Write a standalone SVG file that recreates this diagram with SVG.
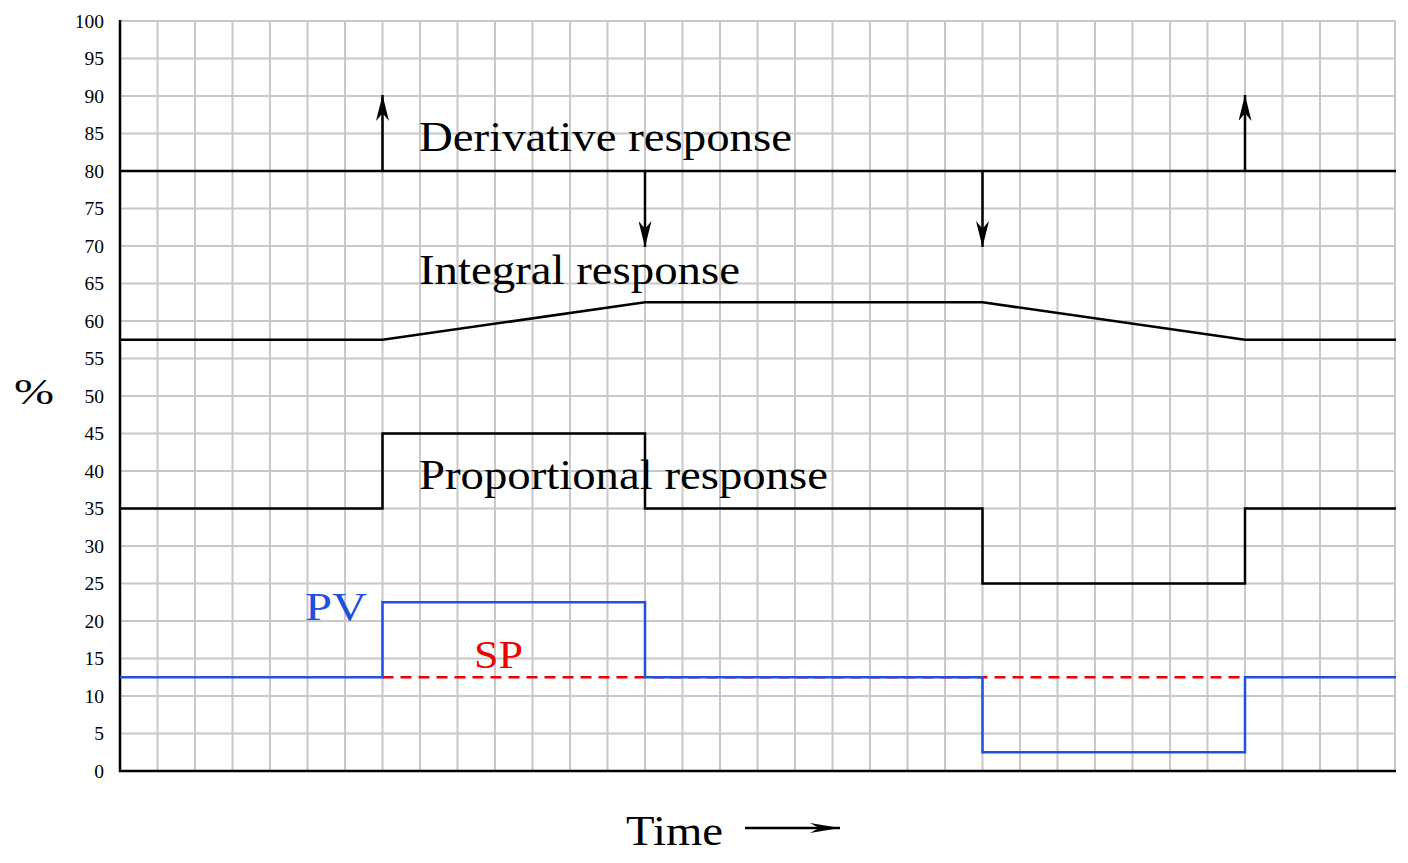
<svg xmlns="http://www.w3.org/2000/svg" width="1408" height="863" viewBox="0 0 1408 863">
<defs>
<style>
.g{stroke:#c8c8c8;stroke-width:2}
.t{font-family:"Liberation Serif",serif;fill:#000}
.yl{font-family:"Liberation Serif",serif;font-size:19.5px;text-anchor:end}
.k{fill:none;stroke:#000;stroke-width:2.5}
</style>
<marker id="ah" viewBox="0 0 10 10" refX="10" refY="5" markerWidth="26" markerHeight="13" markerUnits="userSpaceOnUse" orient="auto" preserveAspectRatio="none"><path d="M0,0 L10,5 L0,10 L3,5 Z" fill="#000"/></marker>
<marker id="ah2" viewBox="0 0 10 10" refX="10" refY="5" markerWidth="30" markerHeight="14" markerUnits="userSpaceOnUse" orient="auto" preserveAspectRatio="none"><path d="M0,1.5 L10,5 L0,8.5 L3,5 Z" fill="#000"/></marker>
</defs>
<rect width="1408" height="863" fill="#fff"/>
<g id="grid">
<path class="g" d="M157.5,20V771M195,20V771M232.5,20V771M270,20V771M307.5,20V771M345,20V771M382.5,20V771M420,20V771M457.5,20V771M495,20V771M532.5,20V771M570,20V771M607.5,20V771M645,20V771M682.5,20V771M720,20V771M757.5,20V771M795,20V771M832.5,20V771M870,20V771M907.5,20V771M945,20V771M982.5,20V771M1020,20V771M1057.5,20V771M1095,20V771M1132.5,20V771M1170,20V771M1207.5,20V771M1245,20V771M1282.5,20V771M1320,20V771M1357.5,20V771M1395,20V771"/>
<path class="g" d="M120,733.5H1395M120,696H1395M120,658.5H1395M120,621H1395M120,583.5H1395M120,546H1395M120,508.5H1395M120,471H1395M120,433.5H1395M120,396H1395M120,358.5H1395M120,321H1395M120,283.5H1395M120,246H1395M120,208.5H1395M120,171H1395M120,133.5H1395M120,96H1395M120,58.5H1395M120,21H1395"/>
</g>
<g id="axes"><path d="M120,20V771H1396" fill="none" stroke="#000" stroke-width="2.5"/></g>
<g id="ylabels" class="yl">
<text x="104" y="778">0</text><text x="104" y="740">5</text><text x="104" y="703">10</text><text x="104" y="665">15</text><text x="104" y="628">20</text><text x="104" y="590">25</text><text x="104" y="553">30</text><text x="104" y="515">35</text><text x="104" y="478">40</text><text x="104" y="440">45</text><text x="104" y="403">50</text><text x="104" y="365">55</text><text x="104" y="328">60</text><text x="104" y="290">65</text><text x="104" y="253">70</text><text x="104" y="215">75</text><text x="104" y="178">80</text><text x="104" y="140">85</text><text x="104" y="103">90</text><text x="104" y="65">95</text><text x="104" y="28">100</text>
</g>
<text class="t" x="14" y="404" font-size="36" textLength="40" lengthAdjust="spacingAndGlyphs">%</text>
<g id="connectors">
<path class="k" d="M120,171H1396"/>
<path class="k" d="M382.5,171V95" marker-end="url(#ah)"/>
<path class="k" d="M1245,171V95" marker-end="url(#ah)"/>
<path class="k" d="M645,171V247" marker-end="url(#ah)"/>
<path class="k" d="M982.5,171V247" marker-end="url(#ah)"/>
<path class="k" d="M120,339.8H382.5L645,302.3H982.5L1245,339.8H1396"/>
<path class="k" d="M120,508.5H382.5V433.5H645V508.5H982.5V583.5H1245V508.5H1396"/>
<path d="M382.5,677.3H1245" fill="none" stroke="#e00" stroke-width="2.5" stroke-dasharray="11,7"/>
<path d="M120,677.3H382.5V602.3H645V677.3H982.5V752.3H1245V677.3H1396" fill="none" stroke="#2050e0" stroke-width="2.5"/>
<path d="M745,828H840" fill="none" stroke="#000" stroke-width="2.5" marker-end="url(#ah2)"/>
</g>
<g id="labels">
<text class="t" x="419" y="151" font-size="42" textLength="373" lengthAdjust="spacingAndGlyphs">Derivative response</text>
<text class="t" x="419" y="284" font-size="42" textLength="321" lengthAdjust="spacingAndGlyphs">Integral response</text>
<text class="t" x="419" y="489" font-size="42" textLength="409" lengthAdjust="spacingAndGlyphs">Proportional response</text>
<text class="t" x="305" y="620" font-size="40" textLength="62" lengthAdjust="spacingAndGlyphs" style="fill:#2050e0">PV</text>
<text class="t" x="474" y="668" font-size="40" textLength="49" lengthAdjust="spacingAndGlyphs" style="fill:#e00">SP</text>
<text class="t" x="626" y="845" font-size="42" textLength="97" lengthAdjust="spacingAndGlyphs">Time</text>
</g>
</svg>
